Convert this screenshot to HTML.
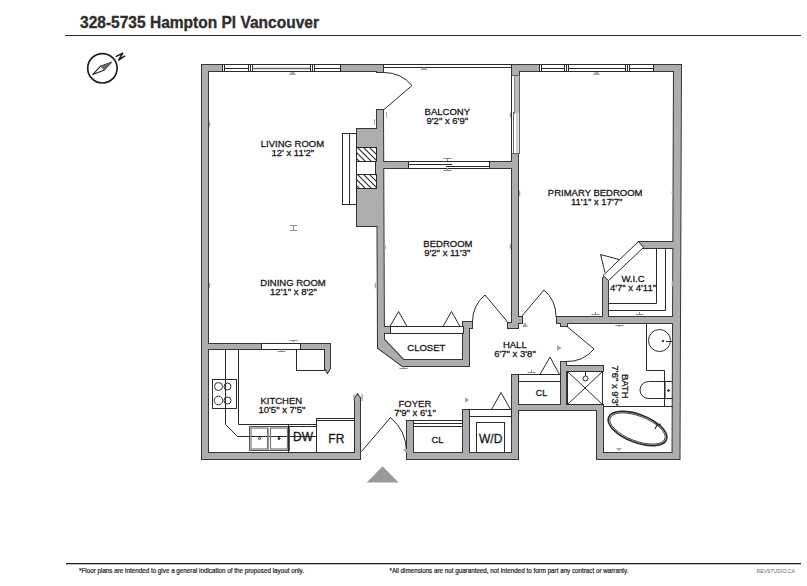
<!DOCTYPE html>
<html><head><meta charset="utf-8">
<style>
html,body{margin:0;padding:0;background:#fff;}
body{width:807px;height:586px;overflow:hidden;}
svg{display:block;}
text{font-family:"Liberation Sans",sans-serif;fill:#1a1a1a;}
.lbl text{stroke:#1a1a1a;stroke-width:0.3px;}
</style></head>
<body>
<svg width="807" height="586" viewBox="0 0 807 586">
<rect x="0" y="0" width="807" height="586" fill="#fff"/>

<text x="80" y="28" font-size="16.2" font-weight="bold" textLength="239" lengthAdjust="spacingAndGlyphs" style="fill:#2e2e2e;stroke:#2e2e2e;stroke-width:0.35px">328-5735 Hampton Pl Vancouver</text>
<rect x="65" y="35" width="736" height="1" fill="#2e2e2e"/>
<circle cx="102.4" cy="68.3" r="14.7" fill="none" stroke="#1e1e1e" stroke-width="1.7"/>
<path d="M111.5 62.2 L100.3 66.3 L92.7 74.6 L103.9 70.3 Z" fill="none" stroke="#1e1e1e" stroke-width="1.1" stroke-linejoin="round"/>
<path d="M111.5 62.2 L100.3 66.3 L103.9 70.3 Z" fill="#6a6a6a"/>
<path d="M116.2 56.4 L122.7 53.3 L118.6 60 L124.7 56.2" fill="none" stroke="#1e1e1e" stroke-width="1.5" stroke-linejoin="round" stroke-linecap="round"/>
<defs><g id="walls"><rect x="202" y="65" width="6" height="394"/><rect x="202" y="65" width="20" height="6"/><rect x="341" y="65" width="42" height="6"/><rect x="377" y="65" width="6" height="7"/><path d="M377 110 L383 110 L384 348 L378 348 Z"/><rect x="357" y="129" width="26" height="97"/><rect x="377" y="162" width="31" height="6"/><rect x="490" y="162" width="28" height="6"/><rect x="512" y="65" width="27" height="6"/><rect x="512" y="65" width="7" height="10"/><rect x="512" y="154" width="6" height="174"/><rect x="508" y="323" width="10" height="5"/><rect x="512" y="317" width="10" height="6"/><rect x="654" y="65" width="24" height="6"/><path d="M674 65 L681 65 L679.5 459 L672.5 459 Z"/><rect x="557" y="317" width="120" height="6"/><rect x="561" y="317" width="6" height="9"/><path d="M639 242 L677 242 L677 248 L643 248 Z"/><path d="M603 317 L603 278 L605.5 276 L608 279 L608 317 Z"/><rect x="561" y="362" width="5" height="48"/><rect x="561" y="366" width="42" height="5"/><rect x="512" y="375" width="6" height="84"/><rect x="512" y="405" width="91" height="5"/><rect x="597" y="405" width="6" height="54"/><rect x="597" y="453" width="79" height="6"/><rect x="407" y="453" width="111" height="6"/><rect x="407" y="421" width="6" height="38"/><rect x="463" y="410" width="6" height="49"/><rect x="202" y="344" width="59" height="5"/><rect x="301" y="344" width="29" height="5"/><path d="M325 344 L330 344 L330 368.5 L327.5 372.5 L325 368.5 Z"/><path d="M355 459 L355 398 L357.5 394.5 L360 398 L360 459 Z"/><rect x="202" y="453" width="158" height="6"/><path d="M378 326 L378 348 L402.5 366 L469 366 L469 328 L472 328 L472 322 L463 322 L463 360 L403.5 360 L384 339.5 L384 326 Z"/><rect x="384" y="327" width="6" height="6"/></g></defs>
<use href="#walls" fill="#363636" stroke="#363636" stroke-width="2"/>
<use href="#walls" fill="#adadad" stroke="none"/>
<rect x="222.5" y="64.5" width="118" height="7" fill="#fff" stroke="#2a2a2a" stroke-width="1"/><rect x="383.5" y="64.5" width="128" height="3" fill="#fff" stroke="#2a2a2a" stroke-width="1"/><rect x="408.5" y="161.5" width="81" height="7" fill="#fff" stroke="#2a2a2a" stroke-width="1"/><rect x="539.5" y="64.5" width="114" height="7" fill="#fff" stroke="#2a2a2a" stroke-width="1"/><rect x="511.5" y="75.5" width="8" height="78" fill="#fff" stroke="#666" stroke-width="1"/><line x1="511.5" y1="75" x2="511.5" y2="154" stroke="#2a2a2a" stroke-width="1"/><rect x="261.5" y="343.5" width="39" height="6" fill="#fff" stroke="#2a2a2a" stroke-width="1"/><rect x="413.5" y="420.5" width="49" height="6" fill="#fff" stroke="#2a2a2a" stroke-width="1"/><rect x="469.5" y="409.5" width="42" height="7" fill="#fff" stroke="#2a2a2a" stroke-width="1"/><rect x="518.5" y="374.5" width="42" height="7" fill="#fff" stroke="#2a2a2a" stroke-width="1"/><rect x="390.5" y="326.5" width="73" height="7" fill="#fff" stroke="#2a2a2a" stroke-width="1"/>
<line x1="224.5" y1="64" x2="224.5" y2="72" stroke="#2a2a2a" stroke-width="1"/><line x1="224" y1="68.5" x2="249" y2="68.5" stroke="#2a2a2a" stroke-width="1"/><line x1="248.5" y1="64" x2="248.5" y2="72" stroke="#2a2a2a" stroke-width="1"/><line x1="250.5" y1="64" x2="250.5" y2="72" stroke="#2a2a2a" stroke-width="1"/><line x1="252.5" y1="64" x2="252.5" y2="72" stroke="#2a2a2a" stroke-width="1"/><line x1="252" y1="68.5" x2="311" y2="68.5" stroke="#666" stroke-width="1.4"/><line x1="310.5" y1="64" x2="310.5" y2="72" stroke="#2a2a2a" stroke-width="1"/><line x1="312.5" y1="64" x2="312.5" y2="72" stroke="#2a2a2a" stroke-width="1"/><line x1="314.5" y1="64" x2="314.5" y2="72" stroke="#2a2a2a" stroke-width="1"/><line x1="314" y1="68.5" x2="340" y2="68.5" stroke="#2a2a2a" stroke-width="1"/><line x1="541.5" y1="64" x2="541.5" y2="72" stroke="#2a2a2a" stroke-width="1"/><line x1="541" y1="68.5" x2="565" y2="68.5" stroke="#2a2a2a" stroke-width="1"/><line x1="564.5" y1="64" x2="564.5" y2="72" stroke="#2a2a2a" stroke-width="1"/><line x1="566.5" y1="64" x2="566.5" y2="72" stroke="#2a2a2a" stroke-width="1"/><line x1="568.5" y1="64" x2="568.5" y2="72" stroke="#2a2a2a" stroke-width="1"/><line x1="568" y1="68.5" x2="626" y2="68.5" stroke="#2a2a2a" stroke-width="1"/><line x1="625.5" y1="64" x2="625.5" y2="72" stroke="#2a2a2a" stroke-width="1"/><line x1="627.5" y1="64" x2="627.5" y2="72" stroke="#2a2a2a" stroke-width="1"/><line x1="629.5" y1="64" x2="629.5" y2="72" stroke="#2a2a2a" stroke-width="1"/><line x1="629" y1="68.5" x2="653" y2="68.5" stroke="#2a2a2a" stroke-width="1"/><line x1="408" y1="164.5" x2="452" y2="164.5" stroke="#2a2a2a" stroke-width="1"/><line x1="446" y1="166.5" x2="490" y2="166.5" stroke="#2a2a2a" stroke-width="1"/><rect x="515" y="76" width="4" height="37" fill="#bdbdbd"/><line x1="514.5" y1="76" x2="514.5" y2="114" stroke="#888" stroke-width="1"/><line x1="513.5" y1="112" x2="513.5" y2="154" stroke="#666" stroke-width="1"/><rect x="516" y="113" width="2.5" height="40" fill="#d0d0d0"/><line x1="413" y1="423.5" x2="463" y2="423.5" stroke="#2a2a2a" stroke-width="1"/>
<rect x="342.5" y="133.5" width="14" height="71" fill="#fff" stroke="#2a2a2a" stroke-width="1"/><line x1="349.5" y1="133" x2="349.5" y2="205" stroke="#2a2a2a" stroke-width="1"/><rect x="356.5" y="147.5" width="20" height="14" fill="#fff" stroke="#2a2a2a" stroke-width="1"/><rect x="356.5" y="161.5" width="19" height="13" fill="#fff" stroke="#2a2a2a" stroke-width="1"/><rect x="356.5" y="174.5" width="20" height="14" fill="#fff" stroke="#2a2a2a" stroke-width="1"/><clipPath id="h1"><rect x="357" y="148" width="19" height="13"/></clipPath><clipPath id="h2"><rect x="357" y="175" width="19" height="13"/></clipPath><g clip-path="url(#h1)"><path d="M338 140 L363 165 M344 140 L369 165 M350 140 L375 165 M356 140 L381 165 M362 140 L387 165 M368 140 L393 165 M374 140 L399 165 " stroke="#2a2a2a" stroke-width="1.1" fill="none"/></g><g clip-path="url(#h2)"><path d="M338 167 L363 192 M344 167 L369 192 M350 167 L375 192 M356 167 L381 192 M362 167 L387 192 M368 167 L393 192 M374 167 L399 192 " stroke="#2a2a2a" stroke-width="1.1" fill="none"/></g>

<g fill="none" stroke="#2a2a2a" stroke-width="1">
  <path d="M384 109.5 L412 85.5 A37 37 0 0 0 384 72.5"/>
  <path d="M507.5 322 L485 295 A35 35 0 0 0 472.5 322"/>
  <path d="M521.5 316.5 L544 290 A34.7 34.7 0 0 1 556 316.5"/>
  <path d="M567 326.5 L594 349 A35 35 0 0 1 566 361.5"/>
  <path d="M361.5 451.5 L390.5 417.5 A45 45 0 0 1 406.5 451.5"/>
  <path d="M390 326.5 L398.5 311.5 L407 326.5"/>
  <path d="M443 326.5 L451.5 311.5 L460 326.5"/>
  <path d="M540 374.5 L550 357 L559.5 374.5"/>
  <path d="M491.5 409.5 L501 392.5 L510.5 409.5"/>
  <path d="M605 272.5 L600.5 254.5 L619.7 259.7"/>
  <path d="M638.5 241.5 L603 275.5 L608.5 280.5 L643.5 247.5 Z" fill="#fff"/>
  <path d="M656.5 248.5 L656.5 303.5 L608.5 303.5"/>
  <path d="M665.5 248.5 L665.5 310.5 L608.5 310.5"/>
  <path d="M225.5 350 L225.5 424.5 L237.5 436.5 L316.5 436.5"/>
  <path d="M238.5 350 L238.5 424.5 L316.5 424.5"/>
  <rect x="212.5" y="379.5" width="24" height="29" fill="#fff"/>
  <line x1="225.5" y1="379.5" x2="225.5" y2="408.5"/>
  <circle cx="218.5" cy="386.5" r="4"/>
  <circle cx="227.5" cy="386.5" r="3.5"/>
  <circle cx="218.5" cy="400.5" r="4.3"/>
  <circle cx="227.5" cy="400.5" r="3.5"/>
  <rect x="249.5" y="426.5" width="40" height="24" stroke="#555"/>
  <rect x="251" y="428" width="16.5" height="21" stroke="#777" stroke-width="1.2"/>
  <rect x="270.5" y="428" width="17" height="21" stroke="#777" stroke-width="1.2"/>
  <line x1="268.5" y1="428" x2="268.5" y2="450" stroke="#999"/>
  <circle cx="259.5" cy="438.5" r="1.1"/>
  <circle cx="279" cy="438.5" r="1" fill="#2a2a2a"/>
  <line x1="289" y1="426.5" x2="316.5" y2="426.5"/>
  <rect x="288.5" y="424.5" width="28" height="28"/>
  <rect x="316.5" y="418.5" width="38" height="34"/>
  <line x1="316.5" y1="420.5" x2="354.5" y2="420.5"/>
  <rect x="296.5" y="349.5" width="28" height="21"/>
  <rect x="476.5" y="422.5" width="28" height="30"/>
  <rect x="567.5" y="371.5" width="35" height="33"/>
  <line x1="567.5" y1="371.5" x2="602.5" y2="404.5"/>
  <line x1="602.5" y1="371.5" x2="567.5" y2="404.5"/>
  <circle cx="585.5" cy="378.5" r="2.5"/>
  <line x1="585.5" y1="371.5" x2="585.5" y2="376"/>
  <path d="M646.5 323.5 L646.5 370.5 L664.5 370.5 L664.5 407"/>
  <circle cx="659.5" cy="340.5" r="11"/>
  <circle cx="663" cy="341" r="0.8" fill="#2a2a2a"/>
  <line x1="666" y1="341.5" x2="672" y2="341.5"/>
  <line x1="665.5" y1="381.5" x2="665.5" y2="398.5" stroke="#888"/>
  <path d="M673 381.5 L648.5 381.5 A8.5 8.5 0 0 0 648.5 398.5 L673 398.5"/>
  <circle cx="668.5" cy="390.5" r="0.9" fill="#222"/>
  <line x1="603.5" y1="406.5" x2="673" y2="406.5"/>
  <path d="M655.5 422 L657 425 L655 429 M657 425 L661 424" stroke-width="1.1"/>
  <ellipse cx="637.5" cy="428.5" rx="31" ry="14" transform="rotate(21 637.5 428.5)" stroke-width="1.6"/>
  <ellipse cx="637.5" cy="428.5" rx="29.3" ry="12.4" transform="rotate(21 637.5 428.5)" stroke-width="0.8"/>
</g>
<path d="M366.8 482.4 L382.5 466.2 L398.7 482.4 Z" fill="#9a9a9a"/>
<g fill="#a8a8a8" stroke="none">
  <path d="M209 121 Q212 124.5 209 128 Z"/>
  <path d="M209 282 Q212 285.5 209 289 Z"/>
  <path d="M376 282 Q373 285.5 376 289 Z"/>
  <path d="M384.5 244 Q387.5 247.5 384.5 251 Z"/>
  <path d="M511 243 Q508 246.5 511 250 Z"/>
  <path d="M519 190 Q522 193.5 519 197 Z"/>
  <path d="M673 189 Q670 192.5 673 196 Z"/>
  <path d="M673 280 Q670 283.5 673 287 Z"/>
  <path d="M511 112 Q508 115 511 118 Z"/>
  <path d="M289 75 L291 72 L294 72 L296 75 Z"/>
  <path d="M593 75 L595 72 L598 72 L600 75 Z"/>
  <path d="M420 70 Q424 65 428 70 Z"/>
  <path d="M522 327 L525 322 L528 327 Z"/>
  <path d="M557 345 L562 348 L557 351 Z"/>
  <path d="M465 397 L469 400 L465 403 Z"/>
  <path d="M403 449 L409 449 L406 453 Z"/>
  <path d="M616 448 L622 448 L619 451 Z"/>
</g>
<g fill="none" stroke="#8c8c8c" stroke-width="1">
  <path d="M290 225.5 L297 225.5 M293.5 225.5 L293.5 230.5 M290 230.5 L297 230.5"/>
  <path d="M443.5 158.5 L451.5 158.5 M447.5 158.5 L447.5 161 M443.5 170.5 L451.5 170.5 M447.5 168 L447.5 170.5"/>
  <path d="M289.5 340.5 L297.5 340.5 M293.5 340.5 L293.5 342 M277.5 351.5 L285.5 351.5 M281.5 349 L281.5 351.5"/>
  <path d="M374.5 119 L374.5 125 M386.5 112 L386.5 118" stroke="#aaa"/>
  <path d="M354 394 L354 401 M362 394 L362 401"/>
  <path d="M591.5 314.5 L599.5 314.5 M595.5 312 L595.5 314.5 M635.5 314.5 L643.5 314.5 M639.5 312 L639.5 314.5"/>
  <path d="M615.5 325.5 L623.5 325.5 M619.5 325.5 L619.5 327"/>
  <path d="M527.5 372.5 L535.5 372.5 M531.5 370 L531.5 372.5"/>
  <path d="M399.5 368.5 L407.5 368.5 M403.5 366.5 L403.5 368.5"/>
</g>


<g font-size="9.5" text-anchor="middle" class="lbl">
  <text x="292.5" y="146.7">LIVING ROOM</text>
  <text x="292.8" y="156.2">12' x 11'2"</text>
  <text x="447.3" y="114.5">BALCONY</text>
  <text x="447.3" y="123.5">9'2" x 6'9"</text>
  <text x="293" y="285.6">DINING ROOM</text>
  <text x="293.5" y="295">12'1" x 8'2"</text>
  <text x="447.9" y="246.7">BEDROOM</text>
  <text x="447.3" y="255.6">9'2" x 11'3"</text>
  <text x="595.2" y="195.6">PRIMARY BEDROOM</text>
  <text x="596.7" y="204.8">11'1" x 17'7"</text>
  <text x="633" y="281.9">W.I.C</text>
  <text x="633" y="291.4">4'7" x 4'11"</text>
  <text x="514.8" y="347.5">HALL</text>
  <text x="515" y="356.6">6'7" x 3'8"</text>
  <text x="426.3" y="350.7">CLOSET</text>
  <text x="281.3" y="403.7">KITCHEN</text>
  <text x="281.9" y="412.5">10'5" x 7'5"</text>
  <text x="414.9" y="406.9">FOYER</text>
  <text x="415" y="415.6">7'9" x 6'1"</text>
  <text x="437.5" y="442.8" font-size="9.5">CL</text>
  <text x="541.4" y="395.6" font-size="9">CL</text>
  <text x="303" y="440.7" font-size="12">DW</text>
  <text x="336.3" y="442.8" font-size="12">FR</text>
  <text x="490.7" y="442.8" font-size="12">W/D</text>
  <text transform="translate(621.8,386.2) rotate(90)">BATH</text>
  <text transform="translate(612.2,386.3) rotate(90)">7'6" x 9'3"</text>
</g>

<rect x="66" y="563" width="735" height="1.3" fill="#1e1e1e"/>
<text x="79" y="572.8" font-size="6.8" style="fill:#222;stroke:#222;stroke-width:0.2px" textLength="225" lengthAdjust="spacingAndGlyphs">*Floor plans are intended to give a general indication of the proposed layout only.</text>
<text x="389.5" y="572.8" font-size="6.8" style="fill:#222;stroke:#222;stroke-width:0.2px" textLength="239" lengthAdjust="spacingAndGlyphs">*All dimensions are not guaranteed, not intended to form part any contract or warranty.</text>
<text x="756.5" y="573.2" font-size="5.5" style="fill:#666" textLength="38.5" lengthAdjust="spacingAndGlyphs">REVSTUDIO.CA</text>
</svg>
</body></html>
